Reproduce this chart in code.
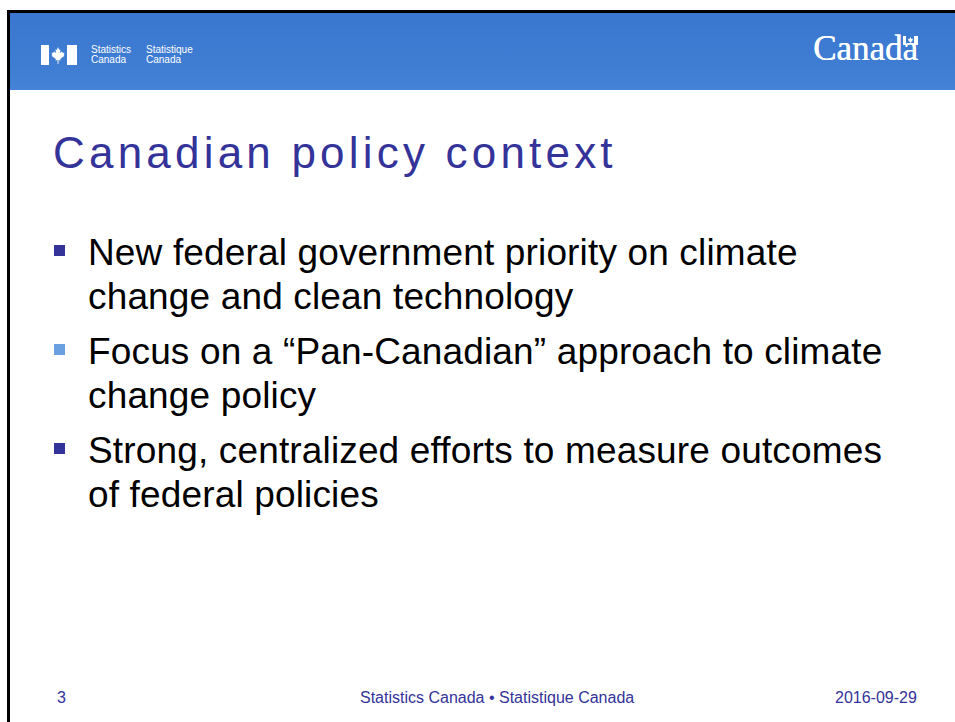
<!DOCTYPE html>
<html><head><meta charset="utf-8">
<script src="https://cdn.jsdelivr.net/npm/chart.js@4/dist/chart.umd.min.js"></script>
<style>
html,body{margin:0;padding:0;background:#fff;}
body{width:955px;height:722px;position:relative;overflow:hidden;font-family:"Liberation Sans",Arial,sans-serif;}
#slide{position:absolute;left:7px;top:10px;width:960px;height:720px;border-left:3px solid #000;border-top:3px solid #000;background:#fff;}
#header{position:absolute;left:0;top:0;width:100%;height:77px;background:linear-gradient(180deg,#3a76cf 0%,#3f7dd3 70%,#4583d7 100%);}
#flag{position:absolute;left:31px;top:32px;}
.sc{position:absolute;color:#fff;font-size:10px;line-height:10px;height:10px;font-family:"Liberation Sans",Arial,sans-serif;white-space:nowrap;}
#wm{position:absolute;left:803px;top:16px;color:#fff;font-family:"Liberation Serif","Times New Roman",serif;font-size:35px;text-shadow:0.4px 0 0 #fff;}
#title{position:absolute;left:43px;top:115px;color:#333399;font-size:44px;letter-spacing:4.2px;white-space:nowrap;}
ul{list-style:none;margin:0;padding:0;position:absolute;left:0;top:218px;}
li{position:relative;padding-left:78px;font-size:37px;line-height:44px;color:#000;margin-bottom:11px;white-space:nowrap;letter-spacing:0.15px;}
li .sq{position:absolute;left:44px;top:14px;width:11px;height:11px;}
.ft{position:absolute;top:676px;font-size:16px;color:#333399;white-space:nowrap;}
</style></head>
<body>
<div id="slide">
  <div id="header">
    <svg id="flag" width="36" height="20" viewBox="0 0 36 20">
      <rect x="0" y="0" width="8" height="20" fill="#fff"/>
      <rect x="26" y="0" width="10" height="20" fill="#fff"/>
      <path d="M17 2 L18.2 5 L19.5 4.3 L19 8 L21 6.5 L21.8 8 L23.5 7.7 L22.6 10.2 L23.5 10.8 L19.2 14 L19.5 15.5 L17.5 15 L17.4 19 L16.6 19 L16.5 15 L14.5 15.5 L14.8 14 L10.5 10.8 L11.4 10.2 L10.5 7.7 L12.2 8 L13 6.5 L15 8 L14.5 4.3 L15.8 5 Z" fill="#fff"/>
    </svg>
    <div class="sc" id="sc1a" style="left:81px;top:32px"></div>
    <div class="sc" id="sc1b" style="left:81px;top:42px"></div>
    <div class="sc" id="sc2a" style="left:136px;top:32px"></div>
    <div class="sc" id="sc2b" style="left:136px;top:42px"></div>
    <div id="wm">Canad<span style="position:relative">a<svg style="position:absolute;left:1px;top:7px" width="15" height="9" viewBox="0 0 15 9"><rect x="0" y="0" width="3" height="9" fill="#fff"/><rect x="11" y="0" width="4" height="9" fill="#fff"/><path d="M7.5 1 L8.5 3 L10 2.8 L9.3 5 L7.8 6.2 L7.8 8.5 L7.2 8.5 L7.2 6.2 L5.7 5 L5 2.8 L6.5 3 Z" fill="#fff"/></svg></span></div>
  </div>
  <div id="title"></div>
  <ul id="bullets"></ul>
  <div class="ft" id="num" style="left:47px"></div>
  <div class="ft" id="org" style="left:350px"></div>
  <div class="ft" id="date" style="left:825px"></div>
</div>
<script>
const titleText = "Canadian policy context";
const bulletLines = [
  ["New federal government priority on climate", "change and clean technology"],
  ["Focus on a \u201cPan-Canadian\u201d approach to climate", "change policy"],
  ["Strong, centralized efforts to measure outcomes", "of federal policies"]
];
const bulletColors = ["#333399", "#6a9fe0", "#333399"];
const footerItems = ["3", "Statistics Canada \u2022 Statistique Canada", "2016-09-29"];
const headerWords = ["Statistics", "Canada", "Statistique", "Canada"];

["sc1a","sc1b","sc2a","sc2b"].forEach((id, i) => { document.getElementById(id).textContent = headerWords[i]; });
document.getElementById('title').textContent = titleText;
const ul = document.getElementById('bullets');
bulletLines.forEach((lines, i) => {
  const li = document.createElement('li');
  const sq = document.createElement('span');
  sq.className = 'sq';
  sq.style.background = bulletColors[i];
  li.appendChild(sq);
  lines.forEach((t, j) => {
    if (j) li.appendChild(document.createElement('br'));
    li.appendChild(document.createTextNode(t));
  });
  ul.appendChild(li);
});
document.getElementById('num').textContent = footerItems[0];
document.getElementById('org').textContent = footerItems[1];
document.getElementById('date').textContent = footerItems[2];
</script>
</body></html>
